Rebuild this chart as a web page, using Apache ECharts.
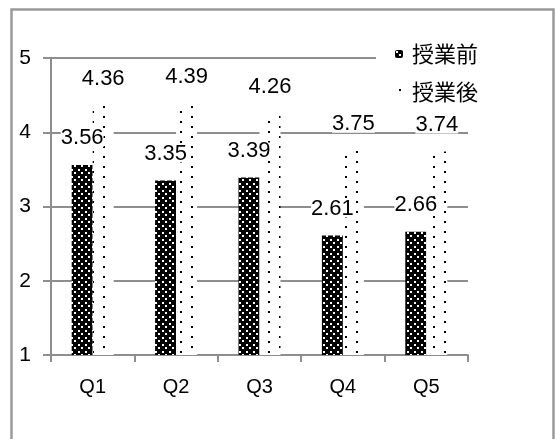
<!DOCTYPE html>
<html>
<head>
<meta charset="utf-8">
<script src="https://cdn.jsdelivr.net/npm/echarts@6/dist/echarts.min.js"></script>
<style>
html,body{margin:0;padding:0;background:#fff;}
#c{width:556px;height:439px;}
</style>
</head>
<body>
<div id="c"></div>
<script>
var categories = ['Q1', 'Q2', 'Q3', 'Q4', 'Q5'];
var seriesNames = ['授業前', '授業後'];
var before = [3.56, 3.35, 3.39, 2.61, 2.66];
var after = [4.36, 4.39, 4.26, 3.75, 3.74];
var yTicks = [1, 2, 3, 4, 5];

function blackDots() {
  var c = document.createElement('canvas');
  c.width = 7; c.height = 7;
  var g = c.getContext('2d');
  g.fillStyle = '#000'; g.fillRect(0, 0, 7, 7);
  g.fillStyle = '#fff';
  g.fillRect(1, 1, 2, 2);
  g.fillRect(4, 4, 2, 2);
  return c;
}
function whiteDots() {
  var c = document.createElement('canvas');
  c.width = 22; c.height = 10;
  var g = c.getContext('2d');
  g.fillStyle = '#fff'; g.fillRect(0, 0, 22, 10);
  g.fillStyle = '#000';
  g.fillRect(4, 1, 2, 2);
  g.fillRect(15, 6, 2, 2);
  return c;
}
var patBlack = { image: blackDots(), repeat: 'repeat' };
var patWhite = { image: whiteDots(), repeat: 'repeat' };

var labelStyle = {
  show: true,
  position: 'top',
  distance: 18,
  fontFamily: 'Liberation Sans',
  fontSize: 22,
  lineHeight: 17,
  color: '#000',
  backgroundColor: '#fff',
  padding: [0, 0, 0, 0]
};

var chart = echarts.init(document.getElementById('c'));
chart.setOption({
  animation: false,
  backgroundColor: '#fff',
  graphic: [{
    type: 'rect',
    shape: { x: 11.5, y: 9.5, width: 542, height: 450 },
    style: { fill: 'none', stroke: '#9a9a9a', lineWidth: 2.5 },
    z: 100
  }],
  grid: { left: 51, right: 88, top: 58, bottom: 84 },
  legend: {
    orient: 'vertical',
    left: 376,
    top: 37,
    padding: [6, 8, 6, 19],
    backgroundColor: '#fff',
    itemWidth: 8,
    itemHeight: 8,
    itemGap: 16,
    textStyle: { fontFamily: 'Noto Sans CJK JP', fontSize: 22, color: '#000', padding: [0, 0, 0, 4] },
    data: seriesNames
  },
  xAxis: {
    type: 'category',
    data: categories,
    axisLine: { lineStyle: { color: '#8e8e8e', width: 2 } },
    axisTick: { show: true, length: 7, lineStyle: { color: '#8e8e8e', width: 2 } },
    axisLabel: { fontFamily: 'Liberation Sans', fontSize: 20, color: '#000', margin: 22 }
  },
  yAxis: {
    type: 'value',
    min: yTicks[0],
    max: yTicks[yTicks.length - 1],
    interval: 1,
    axisLine: { show: true, lineStyle: { color: '#8e8e8e', width: 2 } },
    axisTick: { show: true, length: 8, lineStyle: { color: '#8e8e8e', width: 2 } },
    axisLabel: { fontFamily: 'Liberation Sans', fontSize: 21, color: '#000', margin: 20 },
    splitLine: { lineStyle: { color: '#8e8e8e', width: 2 } }
  },
  series: [{
    name: seriesNames[0],
    type: 'bar',
    data: before,
    barWidth: 21,
    barGap: '0%',
    itemStyle: { color: patBlack },
    label: labelStyle
  }, {
    name: seriesNames[1],
    type: 'bar',
    data: after,
    barWidth: 21,
    barGap: '0%',
    itemStyle: { color: patWhite },
    label: labelStyle
  }]
});
</script>
</body>
</html>
